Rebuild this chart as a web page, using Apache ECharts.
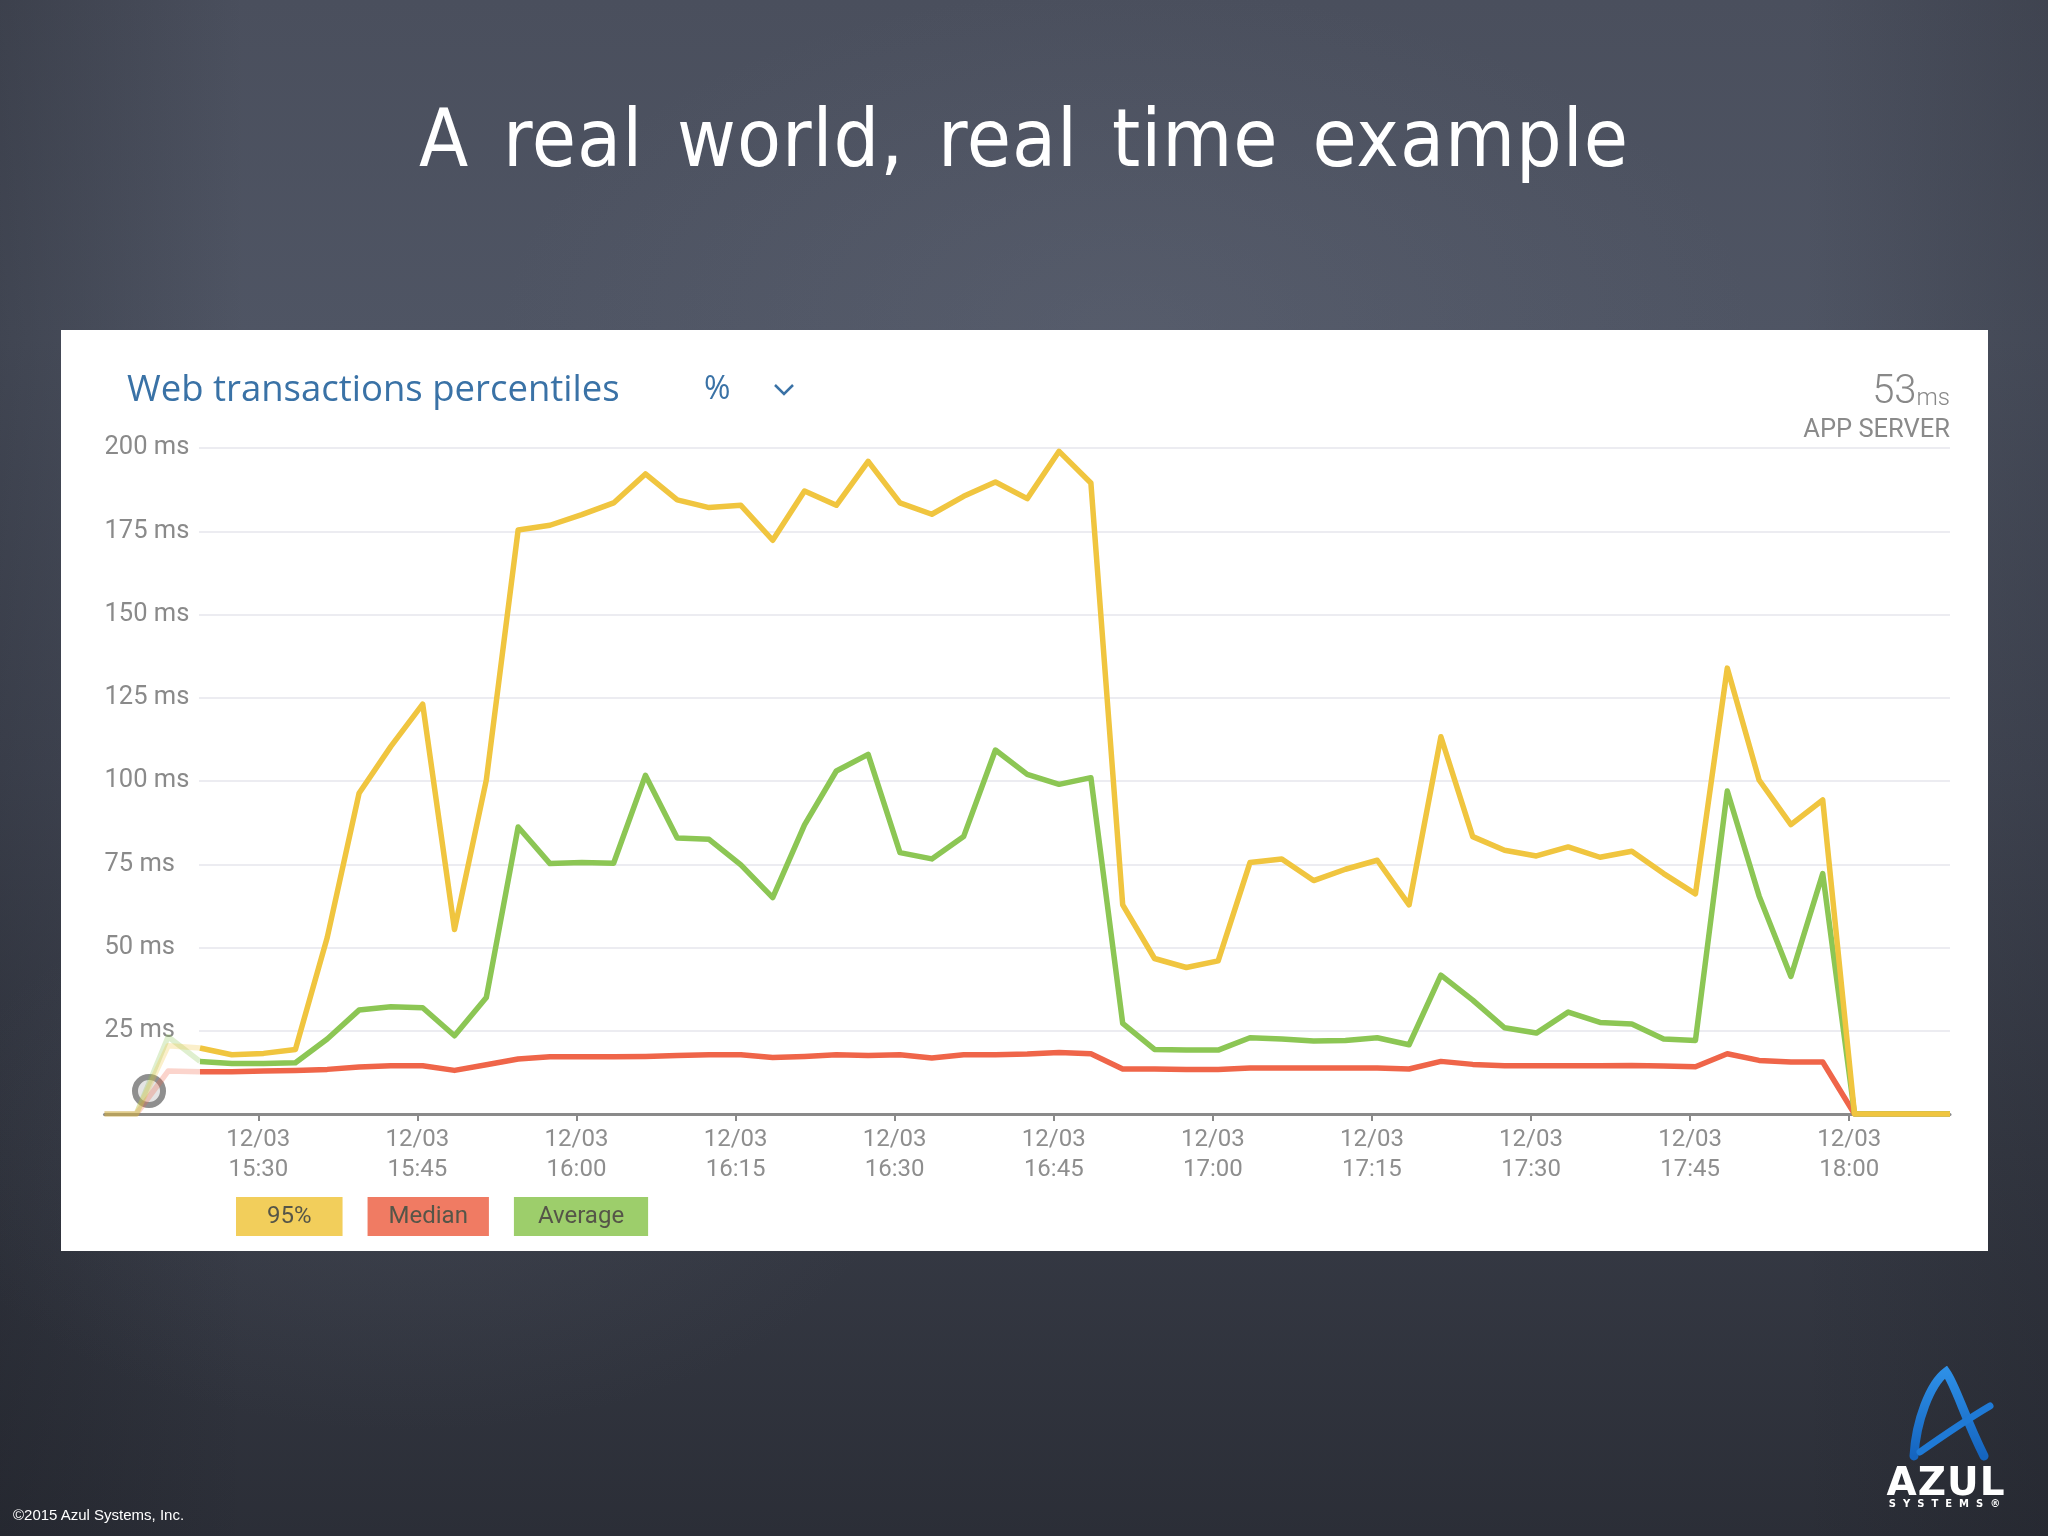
<!DOCTYPE html>
<html>
<head>
<meta charset="utf-8">
<script src="https://cdn.jsdelivr.net/npm/echarts@6/dist/echarts.min.js"></script>
<style>
html,body{margin:0;padding:0;width:2048px;height:1536px;overflow:hidden;}
body{
  position:relative;
  background:
    radial-gradient(ellipse 900px 500px at 55% 22%, rgba(105,111,127,0.28), rgba(105,111,127,0) 70%),
    radial-gradient(ellipse 700px 400px at 20% 75%, rgba(90,96,110,0.22), rgba(90,96,110,0) 70%),
    linear-gradient(90deg, rgba(20,22,28,0.25) 0%, rgba(20,22,28,0) 12%, rgba(20,22,28,0) 88%, rgba(20,22,28,0.2) 100%),
    linear-gradient(180deg, #4a4f5d 0%, #4f5564 22%, #454a58 50%, #373b46 75%, #2b2e37 100%);
  background-color:#3c404c;
  font-family:"Liberation Sans", Arial, sans-serif;
}
#panel{position:absolute;left:61px;top:330px;width:1927px;height:921px;background:#ffffff;}
#chart{position:absolute;left:0;top:0;width:2048px;height:1536px;}
#slideTitle{position:absolute;left:0;top:99px;width:2048px;text-align:center;color:#ffffff;
  font-family:"DejaVu Sans Condensed","DejaVu Sans",sans-serif;font-size:80px;line-height:80px;letter-spacing:1px;word-spacing:10px;}
#copy{position:absolute;left:13px;top:1506px;color:#ffffff;font-family:"Liberation Sans",Arial,sans-serif;font-size:15px;line-height:18px;}
#logoText{position:absolute;left:1876px;top:1464px;width:140px;text-align:center;color:#ffffff;
  font-family:"DejaVu Sans",sans-serif;font-weight:bold;font-size:39px;line-height:36px;letter-spacing:1px;}
#logoSub{position:absolute;left:1878px;top:1498px;width:140px;text-align:center;color:#ffffff;
  font-family:"DejaVu Sans",sans-serif;font-weight:bold;font-size:10px;line-height:12px;letter-spacing:7px;}
#logo{position:absolute;left:1900px;top:1366px;}
</style>
</head>
<body>
<div id="slideTitle">A real world, real time example</div>
<div id="panel"></div>
<div id="chart"></div>
<div id="copy">©2015 Azul Systems, Inc.</div>
<svg id="logo" width="100" height="100" viewBox="0 0 100 100">
  <defs>
    <linearGradient id="lg" x1="0" y1="0" x2="0" y2="1">
      <stop offset="0" stop-color="#2d8fe6"/>
      <stop offset="1" stop-color="#1565c0"/>
    </linearGradient>
  </defs>
  <path d="M14 90 C 16 55, 30 18, 46 6 C 56 20, 64 50, 84 90" fill="none" stroke="url(#lg)" stroke-width="9" stroke-linecap="round"/>
  <path d="M20 86 C 40 72, 66 54, 90 40" fill="none" stroke="#1f7ad6" stroke-width="7" stroke-linecap="round"/>
</svg>
<div id="logoText">AZUL</div>
<div id="logoSub">SYSTEMS®</div>
<script>
// ---- data (sampled every 3 minutes, 12/03 15:15:30 .. 18:09:30) ----
const dayLabel = '12/03';
const startMinute = 915.5;   // 15:15:30 expressed in minutes of the day
const stepMinutes = 3;
const fadedCount = 4;        // first samples drawn faded (preview region)

const p95 = [0, 0, 20.5, 19.8, 17.8, 18.2, 19.4, 53, 96.3, 110.4, 123.1, 55.4, 100.3,
  175.4, 176.8, 180, 183.5, 192.2, 184.4, 182.1, 182.8, 172.3, 187.1, 182.8, 196.0,
  183.5, 180.1, 185.5, 189.8, 184.8, 199, 189.5, 62.8, 46.7, 44, 46, 75.5, 76.6,
  70.1, 73.5, 76.2, 62.8, 113.3, 83.3, 79.2, 77.5, 80.2, 77.1, 78.9, 72.2, 66.1,
  133.9, 100.3, 86.9, 94.3, 0, 0, 0, 0];

const average = [0, 0, 23.2, 15.8, 15.2, 15.2, 15.4, 22.5, 31.2, 32.2, 31.9, 23.5, 35.0,
  86.2, 75.2, 75.5, 75.3, 101.7, 82.9, 82.5, 74.8, 65.0, 86.8, 103.0, 108.0,
  78.5, 76.6, 83.3, 109.3, 102.0, 99.0, 101.0, 27.2, 19.4, 19.2, 19.2, 22.9, 22.5,
  21.9, 22.1, 22.9, 20.8, 41.7, 34.2, 25.9, 24.3, 30.6, 27.5, 27.0, 22.5, 22.1,
  97.0, 65.5, 41.3, 72.2, 0, 0, 0, 0];

const median = [0, 0, 12.9, 12.7, 12.7, 12.9, 13.1, 13.4, 14.1, 14.5, 14.5, 13.1, 14.8,
  16.5, 17.2, 17.2, 17.2, 17.3, 17.6, 17.8, 17.8, 17.0, 17.3, 17.8, 17.6,
  17.8, 16.8, 17.8, 17.8, 18.0, 18.5, 18.1, 13.5, 13.5, 13.4, 13.4, 13.8, 13.8,
  13.8, 13.8, 13.8, 13.5, 15.8, 14.9, 14.5, 14.5, 14.5, 14.5, 14.6, 14.4, 14.2,
  18.1, 16.1, 15.6, 15.6, 0, 0, 0, 0];

const tickMinutes = [930, 945, 960, 975, 990, 1005, 1020, 1035, 1050, 1065, 1080];
const tickTimes = ['15:30', '15:45', '16:00', '16:15', '16:30', '16:45', '17:00', '17:15', '17:30', '17:45', '18:00'];

// ---- chart ----
const sampleMinutes = p95.map((_, i) => startMinute + i * stepMinutes);
const xMin = sampleMinutes[0];
const xMax = sampleMinutes[sampleMinutes.length - 1];

const colors = { '95%': '#f0c53f', 'Median': '#ef6549', 'Average': '#8cc654' };
const legendBg = { '95%': '#f2ce5b', 'Median': '#f07b63', 'Average': '#9dce6b' };

function pairs(arr, from, to) {
  const out = [];
  for (let i = from; i <= to; i++) out.push([sampleMinutes[i], arr[i]]);
  return out;
}

const seriesDefs = [['Median', median], ['Average', average], ['95%', p95]];
const series = [];
seriesDefs.forEach(([name, arr]) => {
  series.push({
    type: 'line', name, xAxisIndex: 0, yAxisIndex: 0,
    data: pairs(arr, 0, fadedCount - 1),
    symbol: 'none', silent: true,
    lineStyle: { color: colors[name], width: 5.5, opacity: 0.28, join: 'round' },
    itemStyle: { color: colors[name] }
  });
  series.push({
    type: 'line', name, xAxisIndex: 0, yAxisIndex: 0,
    data: pairs(arr, fadedCount - 1, arr.length - 1),
    symbol: 'none',
    lineStyle: { color: colors[name], width: 5.5, join: 'round' },
    itemStyle: { color: colors[name] }
  });
});

const chart = echarts.init(document.getElementById('chart'), null, { renderer: 'canvas' });
const blue = '#3a72a6';
chart.setOption({
  animation: false,
  backgroundColor: 'transparent',
  grid: [
    { left: 104.5, right: 98, top: 448, bottom: 422 },
    { left: 199, right: 98, top: 448, bottom: 422 }
  ],
  xAxis: [
    {
      type: 'value', gridIndex: 0, min: xMin, max: xMax,
      axisLine: { show: true, lineStyle: { color: '#8a8a8a', width: 3 } },
      axisTick: { show: true, customValues: tickMinutes, length: 7, lineStyle: { color: '#8a8a8a', width: 2 } },
      axisLabel: {
        show: true, customValues: tickMinutes, margin: 11,
        fontFamily: 'Roboto', fontSize: 24, color: '#8e8e8e', lineHeight: 30,
        formatter: v => {
          const i = tickMinutes.indexOf(Math.round(v));
          return i >= 0 ? dayLabel + '\n' + tickTimes[i] : '';
        }
      },
      splitLine: { show: false }
    },
    { type: 'value', gridIndex: 1, min: 0, max: 1, show: false }
  ],
  yAxis: [
    { type: 'value', gridIndex: 0, min: 0, max: 200, interval: 25, show: false },
    {
      type: 'value', gridIndex: 1, min: 0, max: 200, interval: 25,
      axisLine: { show: false }, axisTick: { show: false },
      axisLabel: {
        showMinLabel: false, align: 'left', margin: 94.5,
        fontFamily: 'Roboto', fontSize: 25.5, color: '#8a8a8a',
        formatter: v => v + ' ms'
      },
      splitLine: { show: true, lineStyle: { color: '#ececf1', width: 2 } }
    }
  ],
  legend: {
    left: 225, top: 1192, itemWidth: 0, itemHeight: 0, itemGap: 19,
    selectedMode: false,
    textStyle: { fontFamily: 'Roboto', fontSize: 24, color: '#555548', lineHeight: 25 },
    data: [
      { name: '95%', textStyle: { backgroundColor: legendBg['95%'], padding: [7, 31] } },
      { name: 'Median', textStyle: { backgroundColor: legendBg['Median'], padding: [7, 21] } },
      { name: 'Average', textStyle: { backgroundColor: legendBg['Average'], padding: [7, 24] } }
    ]
  },
  graphic: [
    { type: 'text', left: 127, top: 372, style: { text: 'Web transactions percentiles', fill: blue, font: '36.5px "Open Sans"' } },
    { type: 'text', left: 704, top: 374, style: { text: '%', fill: blue, font: '32px "Open Sans"' } },
    { type: 'polyline', shape: { points: [[775, 385], [784, 394], [793, 385]] }, style: { stroke: blue, lineWidth: 2.5, fill: null } },
    { type: 'text', right: 98, top: 373, style: {
        text: '{a|53}{b|ms}', rich: {
          a: { fontFamily: 'Roboto', fontWeight: 300, fontSize: 40, fill: '#888888', verticalAlign: 'bottom' },
          b: { fontFamily: 'Roboto', fontWeight: 300, fontSize: 24, fill: '#888888', verticalAlign: 'bottom', padding: [0, 0, 2, 0] }
        } } },
    { type: 'text', right: 98, top: 418, style: { text: 'APP SERVER', fill: '#8a8a8a', font: '25.5px Roboto' } },
    { type: 'circle', shape: { cx: 149, cy: 1091, r: 14 }, style: { fill: 'rgba(205,205,205,0.55)', stroke: '#8f8f8f', lineWidth: 6 } }
  ],
  series
});
</script>
</body>
</html>
